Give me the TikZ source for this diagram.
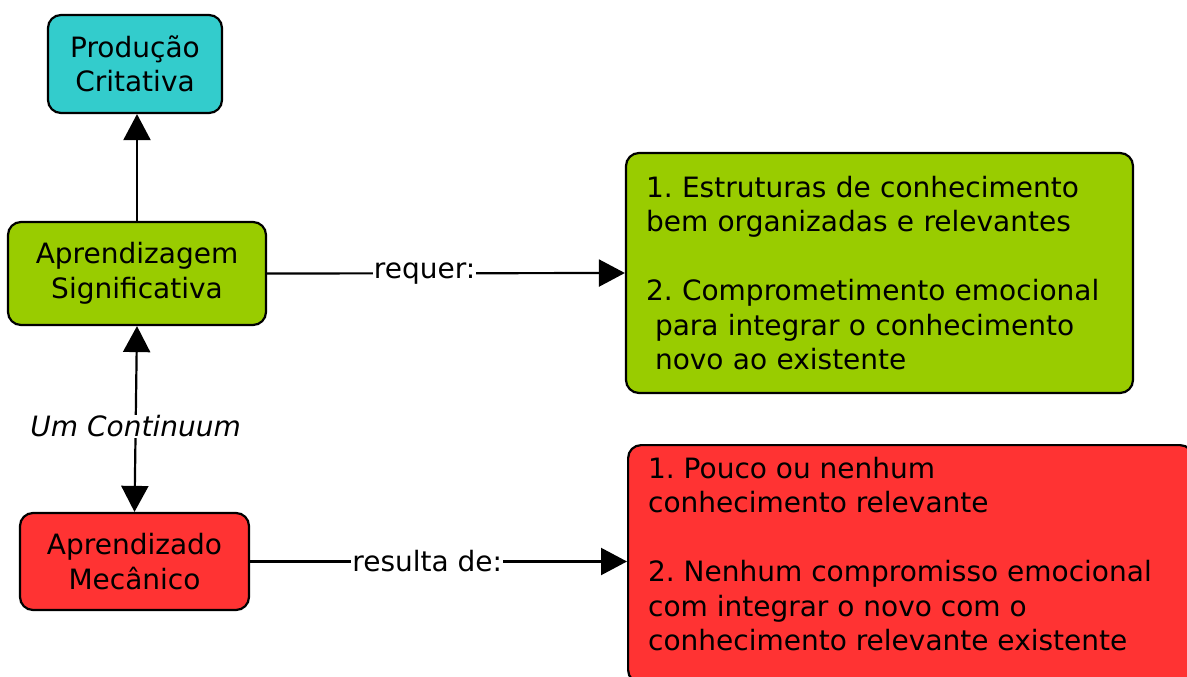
\documentclass[tikz,border=0pt]{standalone}
\usepackage{fontspec}
\setmainfont{DejaVu Sans}
\usetikzlibrary{arrows.meta}
\definecolor{cyanbox}{RGB}{51,204,204}
\definecolor{greenbox}{RGB}{153,204,0}
\definecolor{redbox}{RGB}{255,51,51}
\newcommand\diafont{\fontsize{28}{34.5}\selectfont\frenchspacing}
\begin{document}
\begin{tikzpicture}[x=1pt,y=-1pt,
  box/.style={draw=black, line width=2.2pt, rounded corners=13pt, align=center, font=\diafont, inner sep=0pt},
  conn/.style={line width=2.2pt, -{Triangle[length=26pt,width=27pt]}},
  conn2/.style={line width=2.2pt, {Triangle[length=26pt,width=27pt]}-{Triangle[length=26pt,width=27pt]}},
  lbl/.style={fill=white, font=\diafont, inner sep=1pt}]
\useasboundingbox (0,0) rectangle (1187,677);
\clip (0,0) rectangle (1187,677);
\node[box, fill=cyanbox, minimum width=174pt, minimum height=98pt] (prod) at (135,64) {Produção\\Critativa};
\node[box, fill=greenbox, minimum width=258pt, minimum height=103pt] (apr) at (137,273.5) {Aprendizagem\\Significativa};
\node[box, fill=redbox, minimum width=229pt, minimum height=97pt] (mec) at (134.5,561.5) {Aprendizado\\Mecânico};
\node[box, fill=greenbox, minimum width=507pt, minimum height=240pt, align=left, text width=467pt] (req) at (879.5,273)
  {1. Estruturas de conhecimento\\bem organizadas e relevantes\\[34.5pt]2. Comprometimento emocional\\\hspace*{9pt}para integrar o conhecimento\\\hspace*{9pt}novo ao existente};
\node[box, fill=redbox, anchor=north west, inner xsep=20pt, inner ysep=0pt] (res) at (627,444)
  {\parbox[t][238pt][t]{525pt}{\raggedright\rule{0pt}{33pt}1. Pouco ou nenhum\\conhecimento relevante\\[34.5pt]2. Nenhum compromisso emocional\\com integrar o novo com o\\conhecimento relevante existente}};
\draw[conn] (apr.north) -- (apr.north |- prod.south);
\draw[conn] (apr.east) -- node[lbl, pos=0.44] {requer:} (req.west);
\draw[conn2] (apr.south) -- node[lbl, pos=0.54, font=\diafont\itshape] {Um Continuum} (mec.north);
\draw[conn] (mec.east) -- node[lbl, pos=0.47] {resulta de:} (mec.east -| res.west);
\end{tikzpicture}
\end{document}
